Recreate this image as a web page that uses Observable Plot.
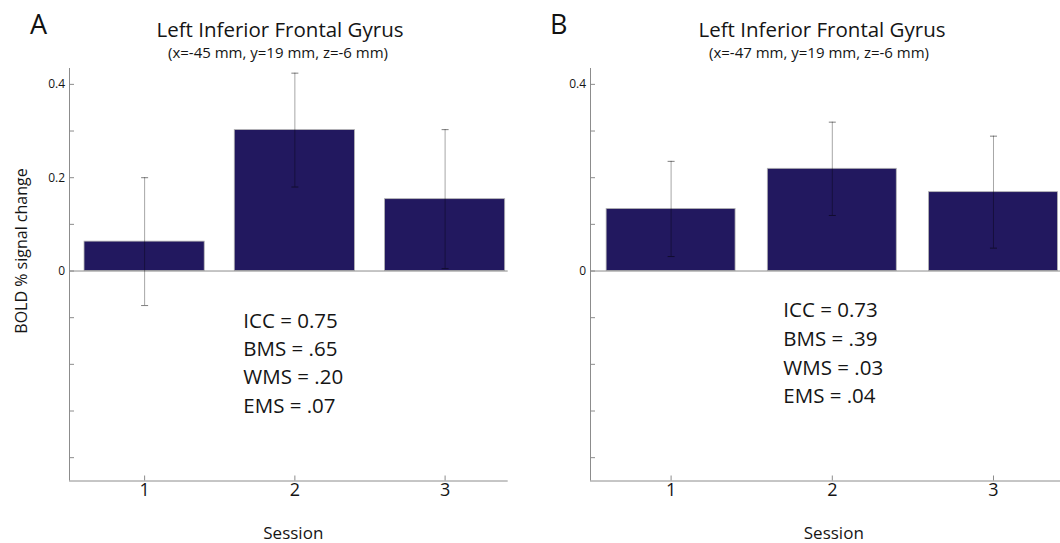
<!DOCTYPE html>
<html>
<head>
<meta charset="utf-8">
<script src="https://cdn.jsdelivr.net/npm/d3@7"></script>
<script src="https://cdn.jsdelivr.net/npm/@observablehq/plot@0.6"></script>
<style>
  html, body { margin: 0; padding: 0; background: #fff; }
  #wrap { position: relative; width: 1060px; height: 543px; overflow: hidden; background: #fff; }
  #wrap svg { position: absolute; top: 0; }
  .lbl { position: absolute; font-family: "Open Sans", sans-serif; line-height: 1; white-space: nowrap; color: #151515; transform-origin: 0 0; }
</style>
</head>
<body>
<div id="wrap"></div>
<script>
// ---- data ----
const sessions = [1, 2, 3];
const meanA = [0.063, 0.302, 0.154];
const errA  = [0.137, 0.122, 0.149];
const meanB = [0.133, 0.219, 0.169];
const errB  = [0.102, 0.100, 0.120];
const yTicks = [-0.4, -0.3, -0.2, -0.1, 0, 0.1, 0.2, 0.3, 0.4];
const yLabelsA = [0, 0.2, 0.4];
const yLabelsB = [0, 0.4];
const xLabels = [1, 2, 3];
const titleText = "Left Inferior Frontal Gyrus";
const subA = "(x=-45 mm, y=19 mm, z=-6 mm)";
const subB = "(x=-47 mm, y=19 mm, z=-6 mm)";
const statsA = ["ICC = 0.75", "BMS = .65", "WMS = .20", "EMS = .07"];
const statsB = ["ICC = 0.73", "BMS = .39", "WMS = .03", "EMS = .04"];
const yTitle = "BOLD % signal change";
const xTitle = "Session";

// ---- styling constants ----
const BAR = "#22185f";
const AXIS = "#8c8c8c";
const halfBar = 0.4;
const capSymbol = {
  draw(ctx, size) { const r = Math.sqrt(size / Math.PI); ctx.moveTo(-r, 0); ctx.lineTo(r, 0); }
};

function panel(means, errs, yLabels, opts) {
  const data = sessions.map((s, i) => ({s, m: means[i], e: errs[i]}));
  return Plot.plot({
    width: opts.width, height: 543,
    marginLeft: opts.marginLeft, marginRight: opts.marginRight,
    marginTop: 68, marginBottom: 62.5,
    x: {domain: [0.5, 3.42], axis: null, label: null},
    y: {domain: [-0.45, 0.434], axis: null, label: null},
    style: {fontFamily: "Open Sans", fontSize: "12px", color: "#151515", background: "transparent", overflow: "visible"},
    marks: [
      Plot.rectY(data, {x1: d => d.s - halfBar, x2: d => d.s + halfBar, y1: 0, y2: "m", fill: BAR, stroke: "#b4b4b4", strokeWidth: 0.8}),
      Plot.ruleY([0], {stroke: AXIS, strokeWidth: 1}),
      Plot.ruleX(data, {x: "s", y1: d => d.m - d.e, y2: d => d.m + d.e, stroke: "#000", strokeOpacity: 0.35, strokeWidth: 1}),
      Plot.dot(data, {x: "s", y: d => d.m + d.e, symbol: capSymbol, r: 3.5, fill: "none", stroke: "#000", strokeOpacity: 0.5, strokeWidth: 1}),
      Plot.dot(data, {x: "s", y: d => d.m - d.e, symbol: capSymbol, r: 3.5, fill: "none", stroke: "#000", strokeOpacity: 0.5, strokeWidth: 1}),
      Plot.ruleX([0.5], {stroke: AXIS, strokeWidth: 1}),
      Plot.ruleY([-0.45], {stroke: AXIS, strokeWidth: 1}),
      Plot.axisY({ticks: yTicks, tickSize: 5, dx: 5, tickFormat: () => "", stroke: AXIS, label: null}),
      Plot.axisY({ticks: yLabels, tickSize: 0, tickPadding: 4.5, fontSize: 12, label: null, tickFormat: d => d === 0 ? "0" : d3.format(".1f")(d)}),
      Plot.axisX({ticks: xLabels, tickSize: 5, dy: -5, tickFormat: () => "", stroke: AXIS, label: null}),
      Plot.axisX({ticks: xLabels, tickSize: 0, tickPadding: 2.5, fontSize: 18, label: null, tickFormat: d => String(d)})
    ]
  });
}

const wrap = document.getElementById("wrap");
const pA = panel(meanA, errA, yLabelsA, {width: 530, marginLeft: 69, marginRight: 22.3});
pA.style.left = "0px";
wrap.appendChild(pA);
const pB = panel(meanB, errB, yLabelsB, {width: 545, marginLeft: 60, marginRight: 14.3});
pB.style.left = "530px";
wrap.appendChild(pB);

function label(txt, x, baseline, fs, anchor, rotate, color) {
  const d = document.createElement("div");
  d.className = "lbl";
  d.textContent = txt;
  d.style.left = x + "px";
  d.style.top = baseline + "px";
  d.style.fontSize = fs + "px";
  if (color) d.style.color = color;
  const tx = anchor === "middle" ? "-50%" : "0";
  d.style.transform = (rotate ? "rotate(-90deg) " : "") + `translate(${tx}, -0.888em)`;
  wrap.appendChild(d);
}

// panel letters
label("A", 30, 34, 27, "start", false, "#111");
label("B", 550, 34, 27, "start", false, "#111");
// titles
label(titleText, 280, 37, 20.5, "middle");
label(subA, 278, 58, 15, "middle");
label(titleText, 822, 37, 20.5, "middle");
label(subB, 819, 58, 15, "middle");
// axis titles
label(yTitle, 26.7, 251, 16, "middle", true);
label(xTitle, 293.3, 539, 17, "middle");
label(xTitle, 833.8, 539, 17, "middle");
// stats
statsA.forEach((t, i) => label(t, 243.3, 327.7 + i * 28.35, 20.5, "start"));
statsB.forEach((t, i) => label(t, 783.3, 317.3 + i * 28.7, 20.5, "start"));
</script>
</body>
</html>
